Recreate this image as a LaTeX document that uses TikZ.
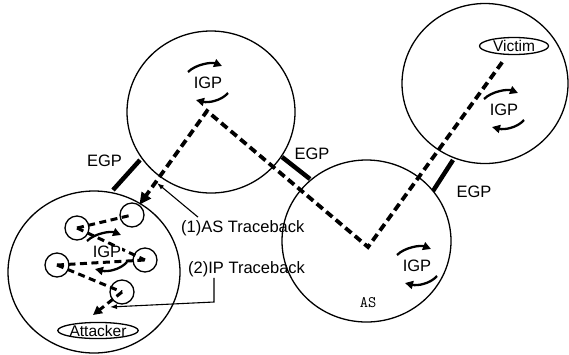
\documentclass[tikz,border=0pt]{standalone}
\usepackage{fontspec}
\setmainfont{Liberation Sans}
\usetikzlibrary{arrows.meta,shapes.geometric}
\tikzset{
  asdom/.style={draw, ellipse, line width=1.3pt, inner sep=0pt},
  router/.style={draw, circle, minimum size=24pt, inner sep=0pt, line width=1.3pt},
  host/.style={draw, ellipse, minimum width=69pt, minimum height=17pt, inner sep=0pt, line width=1.3pt, font=\fontsize{15.5}{17}\selectfont},
  lbl/.style={inner sep=0pt, font=\fontsize{16.5}{18}\selectfont},
  igptext/.style={lbl},
  route/.style={line width=3.8pt, dash pattern=on 8pt off 4.5pt},
  inroute/.style={line width=3pt, dash pattern=on 7pt off 4.5pt},
  egpbar/.style={line width=4.5pt},
  igparc/.style={line width=2.3pt, -{Triangle[length=8pt,width=8pt]}},
  pointer/.style={line width=1.1pt, -{Latex[length=7pt,width=5pt]}},
  igp/.pic={
    \node[igptext] (-t) at (0,0) {IGP};
    \draw[igparc] (-20,-11) .. controls (-12,-19) and (4,-21) .. (14,-17);
    \draw[igparc] (20,10) .. controls (13,18) and (0,20) .. (-12,17);
  }
}
\begin{document}
\begin{tikzpicture}[x=1pt,y=-1pt]
\useasboundingbox (0,0) rectangle (569,354);
% autonomous systems
\node[asdom, minimum width=168pt, minimum height=162pt] (asA) at (211,112) {};
\node[asdom, minimum width=169pt, minimum height=162pt] (asB) at (366.5,241) {};
\node[asdom, minimum width=166pt, minimum height=160pt] (asC) at (485,83.5) {};
\node[asdom, minimum width=172pt, minimum height=162pt] (asD) at (94,272) {};
% hosts
\node[host] (victim) at (514,46) {Victim};
\node[host, minimum width=70pt, minimum height=16pt] (attacker) at (98,330.5) {Attacker};
% routers in the attacker AS
\node[router] (c1) at (132,215) {};
\node[router] (c2) at (77,228) {};
\node[router] (c3) at (145,260) {};
\node[router] (c4) at (57,265) {};
\node[router] (c5) at (122,292) {};
% EGP links
\coordinate (eL1) at (113,190); \coordinate (eL2) at (140,160);
\coordinate (eM1) at (282,157); \coordinate (eM2) at (310,179);
\coordinate (eR1) at (453,160); \coordinate (eR2) at (433,191);
\draw[egpbar] (eL1) -- (eL2);
\draw[egpbar] (eM1) -- (eM2);
\draw[egpbar] (eR1) -- (eR2);
\node[lbl] (egpL) at (104.5,161) {EGP};
\node[lbl] (egpM) at (312,154) {EGP};
\node[lbl] (egpR) at (474,192) {EGP};
% AS-level route
\coordinate (vB) at (368,247);
\coordinate (vA) at (207,111);
\draw[route, -{Triangle[length=12pt,width=11pt]}, shorten <=9pt] (victim) -- (vB) -- (vA) -- (c1);
% IP-level route inside attacker AS
\coordinate (atkin) at (93,315);
\draw[inroute] (c2.center) -- (c1.center);
\draw[inroute] (c2.center) -- (c3.center);
\draw[inroute] (c4.center) -- (c3.center);
\draw[inroute] (c4.center) -- (c5.center);
\draw[inroute, -{Triangle[length=9pt,width=9pt]}] (c5.center) -- (atkin);
% IGP labels
\pic (igpA) at (208,83) {igp};
\pic (igpB) at (417,266) {igp};
\pic (igpC) at (504,110) {igp};
\pic[igptext/.append style={fill=white, inner sep=0.5pt}] (igpD) at (107,252) {igp};
\node[lbl, font=\fontsize{16}{18}\selectfont\ttfamily] (asname) at (368,303) {AS};
% traceback labels
\node[lbl, anchor=west] (astb) at (181,228) {(1)AS Traceback};
\node[lbl, anchor=west] (iptb) at (188,269) {(2)IP Traceback};
\coordinate (ashead) at (157,183);
\coordinate (ipcorner) at (214,302);
\coordinate (iphead) at (110,307);
\draw[pointer] ([xshift=17pt,yshift=3pt]astb.north west) -- (ashead);
\draw[pointer] ([xshift=26pt,yshift=-1pt]iptb.south west) -- (ipcorner) -- (iphead);
\end{tikzpicture}
\end{document}
